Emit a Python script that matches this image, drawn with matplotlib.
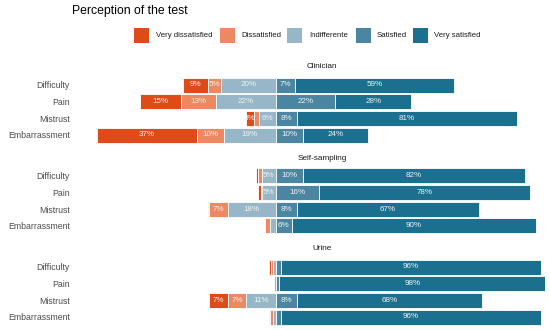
import matplotlib
matplotlib.use("Agg")
import matplotlib.pyplot as plt
from matplotlib.patches import Rectangle

plt.rcParams['font.family'] = ['Liberation Sans', 'DejaVu Sans']

levels = ["Very dissatisfied", "Dissatisfied", "Indifferente", "Satisfied", "Very satisfied"]
colors = ["#DF4B18", "#EE8862", "#97B6C7", "#4A85A1", "#1B7090"]
items = ["Difficulty", "Pain", "Mistrust", "Embarrassment"]
groups = ["Clinician", "Self-sampling", "Urine"]

clin_vdis = [9, 15, 3, 37]
clin_dis = [5, 13, 2, 10]
clin_ind = [20, 22, 6, 19]
clin_sat = [7, 22, 8, 10]
clin_vsat = [59, 28, 81, 24]

self_vdis = [0.8, 1.0, 0.6, 0.0]
self_dis = [1.5, 0.5, 6.8, 2.0]
self_ind = [5, 5, 17.6, 2.0]
self_sat = [10, 16, 8, 6]
self_vsat = [82, 78, 67, 90]

urine_vdis = [0.7, 0.0, 6.8, 0.4]
urine_dis = [0.8, 0.0, 6.8, 1.0]
urine_ind = [1.0, 0.7, 10.8, 1.0]
urine_sat = [2.0, 1.4, 8, 2.0]
urine_vsat = [96, 98, 68, 96]

data = {
    "Clinician": [clin_vdis, clin_dis, clin_ind, clin_sat, clin_vsat],
    "Self-sampling": [self_vdis, self_dis, self_ind, self_sat, self_vsat],
    "Urine": [urine_vdis, urine_dis, urine_ind, urine_sat, urine_vsat],
}

W, H = 550, 331
fig = plt.figure(figsize=(W / 100, H / 100), dpi=100)
fig.patch.set_facecolor("white")

ax_left, ax_right = 80.4, 548.0
panel_tops = [75, 166, 257]
panel_h = 70
strip_y = [67, 158, 249]

for g, top, sy in zip(groups, panel_tops, strip_y):
    ax = fig.add_axes([ax_left / W, 1 - (top + panel_h) / H,
                       (ax_right - ax_left) / W, panel_h / H])
    vals = data[g]
    for r in range(len(items)):
        neg = vals[0][r] + vals[1][r] + vals[2][r]
        left = -neg
        for k in range(5):
            v = vals[k][r]
            if v > 0:
                ax.barh(r, v, left=left, height=0.9, color=colors[k],
                        edgecolor="white", linewidth=0.6)
                if v >= 2.5:
                    ax.text(left + v / 2, r, f"{round(v)}%", ha="center",
                            va="center", fontsize=5.8, color="#F2F2F2")
            left += v
    ax.set_xlim(-72, 100.5)
    ax.set_ylim(3.6, -0.6)
    ax.set_yticks(range(len(items)))
    ax.set_yticklabels(items)
    ax.set_xticks([])
    ax.tick_params(axis="y", length=0, pad=7.5, labelsize=6.3, labelcolor="#4D4D4D")
    for s in ax.spines.values():
        s.set_visible(False)
    ax.set_facecolor("white")
    fig.text(322 / W, 1 - sy / H, g, ha="center", va="center",
             fontsize=5.9, color="#1A1A1A")

fig.text(72 / W, 1 - 11 / H, "Perception of the test", ha="left", va="center",
         fontsize=8.85, color="black")

sq_x = [134, 220, 287, 356, 413]
txt_x = [156, 241, 309, 377, 434]
for k in range(5):
    fig.add_artist(Rectangle((sq_x[k] / W, 1 - 43 / H), 15 / W, 15 / H,
                             transform=fig.transFigure, facecolor=colors[k],
                             edgecolor="none"))
    fig.text(txt_x[k] / W, 1 - 35.5 / H, levels[k], ha="left", va="center",
             fontsize=5.6, color="#1A1A1A")

fig.savefig("out.png", dpi=100)
